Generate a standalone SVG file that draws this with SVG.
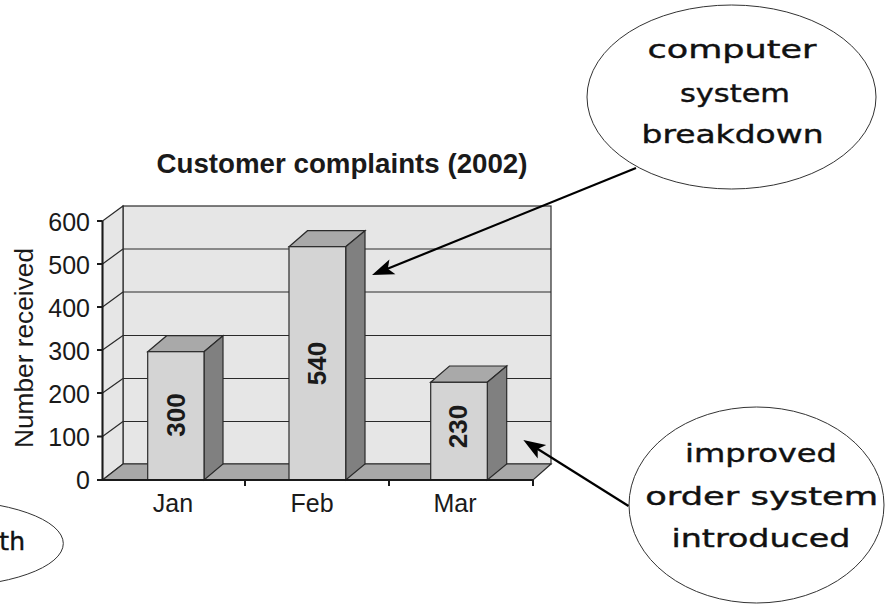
<svg xmlns="http://www.w3.org/2000/svg" width="885" height="605" viewBox="0 0 885 605">
  <style>
    .wall { fill: #e6e6e6; stroke: #2a2a2a; stroke-width: 1.2; }
    .floor { fill: #a8a8a8; stroke: #2a2a2a; stroke-width: 1.2; }
    .grid { stroke: #2a2a2a; stroke-width: 1.2; fill: none; }
    .front { fill: #d4d4d4; stroke: #2a2a2a; stroke-width: 1.2; }
    .top { fill: #a9a9a9; stroke: #2a2a2a; stroke-width: 1.2; }
    .side { fill: #808080; stroke: #2a2a2a; stroke-width: 1.2; }
    .axis { stroke: #1a1a1a; stroke-width: 2; fill: none; }
    .lbl { font-family: "Liberation Sans", Arial, sans-serif; font-size: 25px; fill: #1a1a1a; }
    .val { font-family: "Liberation Sans", Arial, sans-serif; font-size: 26px; font-weight: bold; fill: #1a1a1a; text-anchor: middle; }
    .title { font-family: "Liberation Sans", Arial, sans-serif; font-size: 27px; font-weight: bold; fill: #1a1a1a; text-anchor: middle; }
    .bubble { fill: #ffffff; stroke: #333333; stroke-width: 1; }
    .note { font-family: "DejaVu Sans", sans-serif; font-size: 25px; fill: #111111; stroke: #111111; stroke-width: 0.4; }
    .mid { text-anchor: middle; }
    .end { text-anchor: end; }
    .conn { stroke: #000000; stroke-width: 2.2; fill: none; marker-end: url(#head); }
  </style>
  <defs>
    <marker id="head" viewBox="0 0 24 18" refX="13" refY="9" markerWidth="24" markerHeight="18" markerUnits="userSpaceOnUse" orient="auto">
      <path d="M23,9 L1,1 L6,9 L1,17 Z" fill="#000000"/>
    </marker>
  </defs>

  <!-- chart frame: walls, floor, grid -->
  <g id="chart">
    <text class="title" x="342" y="173" textLength="371" lengthAdjust="spacingAndGlyphs">Customer complaints (2002)</text>
    <rect class="wall" x="123" y="206" width="428" height="258"/>
    <polygon class="wall" points="102.5,480 102.5,221 123,206 123,464"/>
    <polygon class="floor" points="102.5,480 123,464 551,464 533,480"/>
    <g class="grid">
      <path d="M123,249 H551 M123,292 H551 M123,335.5 H551 M123,378.5 H551 M123,421.5 H551"/>
      <path d="M102.5,264 L123,249 M102.5,307 L123,292 M102.5,350 L123,335.5 M102.5,393 L123,378.5 M102.5,436.5 L123,421.5"/>
    </g>
  </g>

  <!-- bars -->
  <g id="bar-jan">
    <polygon class="top" points="147.7,351.7 166.7,335.7 223,335.7 204,351.7"/>
    <polygon class="side" points="204,351.7 223,335.7 223,464 204,480"/>
    <rect class="front" x="147.7" y="351.7" width="56.3" height="128.3"/>
    <text class="val" transform="translate(185,415) rotate(-90)">300</text>
  </g>
  <g id="bar-feb">
    <polygon class="top" points="289,246.7 307.5,230.7 365,230.7 345.7,246.7"/>
    <polygon class="side" points="345.7,246.7 365,230.7 365,464 345.7,480"/>
    <rect class="front" x="289" y="246.7" width="56.7" height="233.3"/>
    <text class="val" transform="translate(325.5,363.5) rotate(-90)">540</text>
  </g>
  <g id="bar-mar">
    <polygon class="top" points="430.7,382.3 449.5,366 506.7,366 487.3,382.3"/>
    <polygon class="side" points="487.3,382.3 506.7,366 506.7,464 487.3,480"/>
    <rect class="front" x="430.7" y="382.3" width="56.6" height="97.7"/>
    <text class="val" transform="translate(467,426.5) rotate(-90)">230</text>
  </g>

  <!-- axes, ticks and labels -->
  <g id="axes">
    <path class="axis" d="M102.5,221 V481 M101.5,480 H533"/>
    <path class="axis" d="M97,221 H102.5 M97,264 H102.5 M97,307 H102.5 M97,350 H102.5 M97,393 H102.5 M97,436.5 H102.5 M97,480 H102.5"/>
    <path class="axis" d="M245,480 V486 M389,480 V486 M533,480 V486"/>
    <g class="lbl" text-anchor="end">
      <text x="90" y="231">600</text>
      <text x="90" y="273.5">500</text>
      <text x="90" y="316.5">400</text>
      <text x="90" y="359.5">300</text>
      <text x="90" y="402.5">200</text>
      <text x="90" y="446">100</text>
      <text x="90" y="489">0</text>
    </g>
    <text class="lbl" text-anchor="middle" transform="translate(32.5,348) rotate(-90)" textLength="200" lengthAdjust="spacingAndGlyphs">Number received</text>
    <g class="lbl" text-anchor="middle">
      <text x="173" y="511.7">Jan</text>
      <text x="312" y="511.7">Feb</text>
      <text x="455" y="511.7">Mar</text>
    </g>
  </g>

  <!-- callout bubbles -->
  <g id="note-breakdown">
    <ellipse class="bubble" cx="731.5" cy="97" rx="144.5" ry="92"/>
    <text class="note mid" x="732" y="58" textLength="169" lengthAdjust="spacingAndGlyphs">computer</text>
    <text class="note mid" x="735" y="101.7" textLength="110" lengthAdjust="spacingAndGlyphs">system</text>
    <text class="note mid" x="732.5" y="143.3" textLength="182" lengthAdjust="spacingAndGlyphs">breakdown</text>
  </g>
  <g id="note-order">
    <ellipse class="bubble" cx="756.5" cy="505" rx="127.5" ry="98"/>
    <text class="note mid" x="761" y="461.7" textLength="152" lengthAdjust="spacingAndGlyphs">improved</text>
    <text class="note mid" x="761.7" y="505" textLength="233" lengthAdjust="spacingAndGlyphs">order system</text>
    <text class="note mid" x="761" y="546.7" textLength="179" lengthAdjust="spacingAndGlyphs">introduced</text>
  </g>
  <g id="note-left">
    <ellipse class="bubble" cx="-60" cy="543.5" rx="123.3" ry="43.5"/>
    <text class="note end" x="25" y="550">th</text>
  </g>

  <!-- connectors -->
  <g id="connectors">
    <line class="conn" x1="636" y1="168" x2="381.3" y2="271.3"/>
    <line class="conn" x1="628.5" y1="506" x2="531.8" y2="445.3"/>
  </g>
</svg>
